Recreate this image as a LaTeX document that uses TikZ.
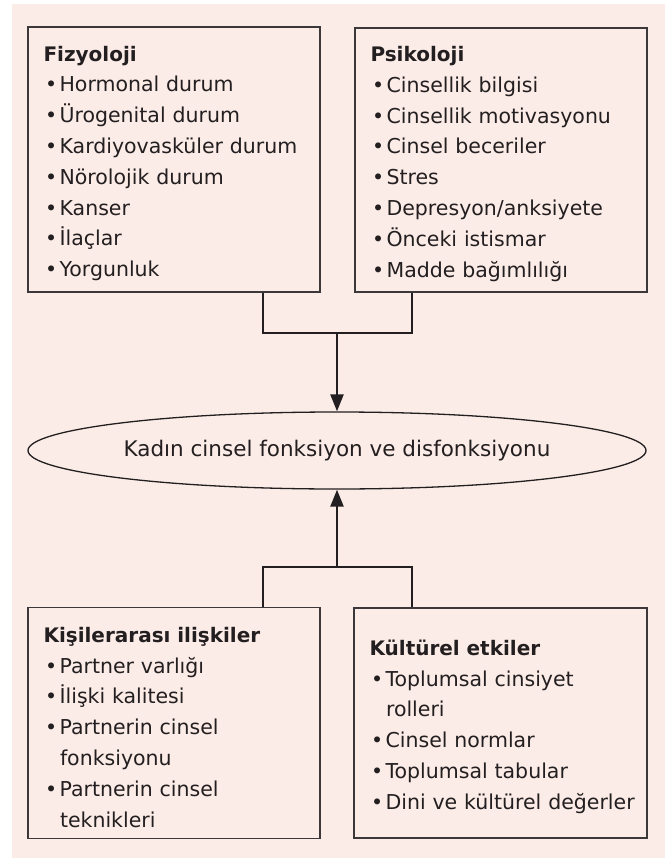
\documentclass[tikz,border=0pt]{standalone}
\usepackage{fontspec}
\setmainfont{DejaVu Sans}
\usetikzlibrary{shapes.geometric,arrows.meta}
\definecolor{bgpink}{RGB}{252,236,231}
\definecolor{ink}{RGB}{35,31,32}
\definecolor{boxline}{RGB}{60,56,57}
\newcommand{\itm}{\hspace*{1.5pt}•\hspace{2.5pt}}
\newcommand{\cont}{\hspace*{16.5pt}}
\newcommand{\hd}[1]{\rule{0pt}{23pt}{\fontsize{20}{30.8}\selectfont\bfseries #1}}
\begin{document}
\begin{tikzpicture}[x=1pt,y=-1pt,
  catbox/.style={draw=boxline,line width=1.3pt,rectangle,align=left,
    inner xsep=15.5pt,inner ysep=0pt,text=ink,
    font=\fontsize{20.5}{30.8}\selectfont},
  conn/.style={draw=ink,line width=2.4pt},
  arr/.style={conn,-{Triangle[length=17pt,width=13pt]}}]
\useasboundingbox (0,0) rectangle (665,858);
\fill[bgpink] (12,4) rectangle (665,858);

\node[catbox,minimum width=292pt,minimum height=265pt,text width=261pt] (fiz) at (174,159.5) {%
\hd{Fizyoloji}\\
\itm Hormonal durum\\
\itm Ürogenital durum\\
\itm Kardiyovasküler durum\\
\itm Nörolojik durum\\
\itm Kanser\\
\itm İlaçlar\\
\itm Yorgunluk};

\node[catbox,minimum width=292pt,minimum height=264pt,text width=261pt] (psi) at (501,160) {%
\hd{Psikoloji}\\
\itm Cinsellik bilgisi\\
\itm Cinsellik motivasyonu\\
\itm Cinsel beceriler\\
\itm Stres\\
\itm Depresyon/anksiyete\\
\itm Önceki istismar\\
\itm Madde bağımlılığı};

\node[catbox,minimum width=292pt,minimum height=231pt,text width=261pt] (kis) at (174,723.3) {%
\hd{Kişilerarası ilişkiler}\\
\itm Partner varlığı\\
\itm İlişki kalitesi\\
\itm Partnerin cinsel\\
\cont fonksiyonu\\
\itm Partnerin cinsel\\
\cont teknikleri};

\node[catbox,minimum width=293pt,minimum height=230pt,text width=262pt] (kul) at (500.5,723) {%
\hd{Kültürel etkiler}\\
\itm Toplumsal cinsiyet\\
\cont rolleri\\
\itm Cinsel normlar\\
\itm Toplumsal tabular\\
\mbox{\itm Dini ve kültürel değerler}};

\node[draw=ink,line width=1.3pt,ellipse,minimum width=618pt,minimum height=77pt,inner sep=0pt,
  text=ink,font=\fontsize{21.5}{25}\selectfont] (ell) at (337,450.5) {Kadın cinsel fonksiyon ve disfonksiyonu};

\coordinate (xl) at (262.7,0);
\coordinate (xr) at (411.7,0);
\coordinate (jt) at (337,332.7);
\coordinate (jb) at (337,566.7);

\draw[conn] (fiz.south -| xl) |- (jt);
\draw[conn] (psi.south -| xr) |- (jt);
\draw[arr] (jt) -- (ell.north);

\draw[conn] (kis.north -| xl) |- (jb);
\draw[conn] (kul.north -| xr) |- (jb);
\draw[arr] (jb) -- (ell.south);
\end{tikzpicture}
\end{document}
